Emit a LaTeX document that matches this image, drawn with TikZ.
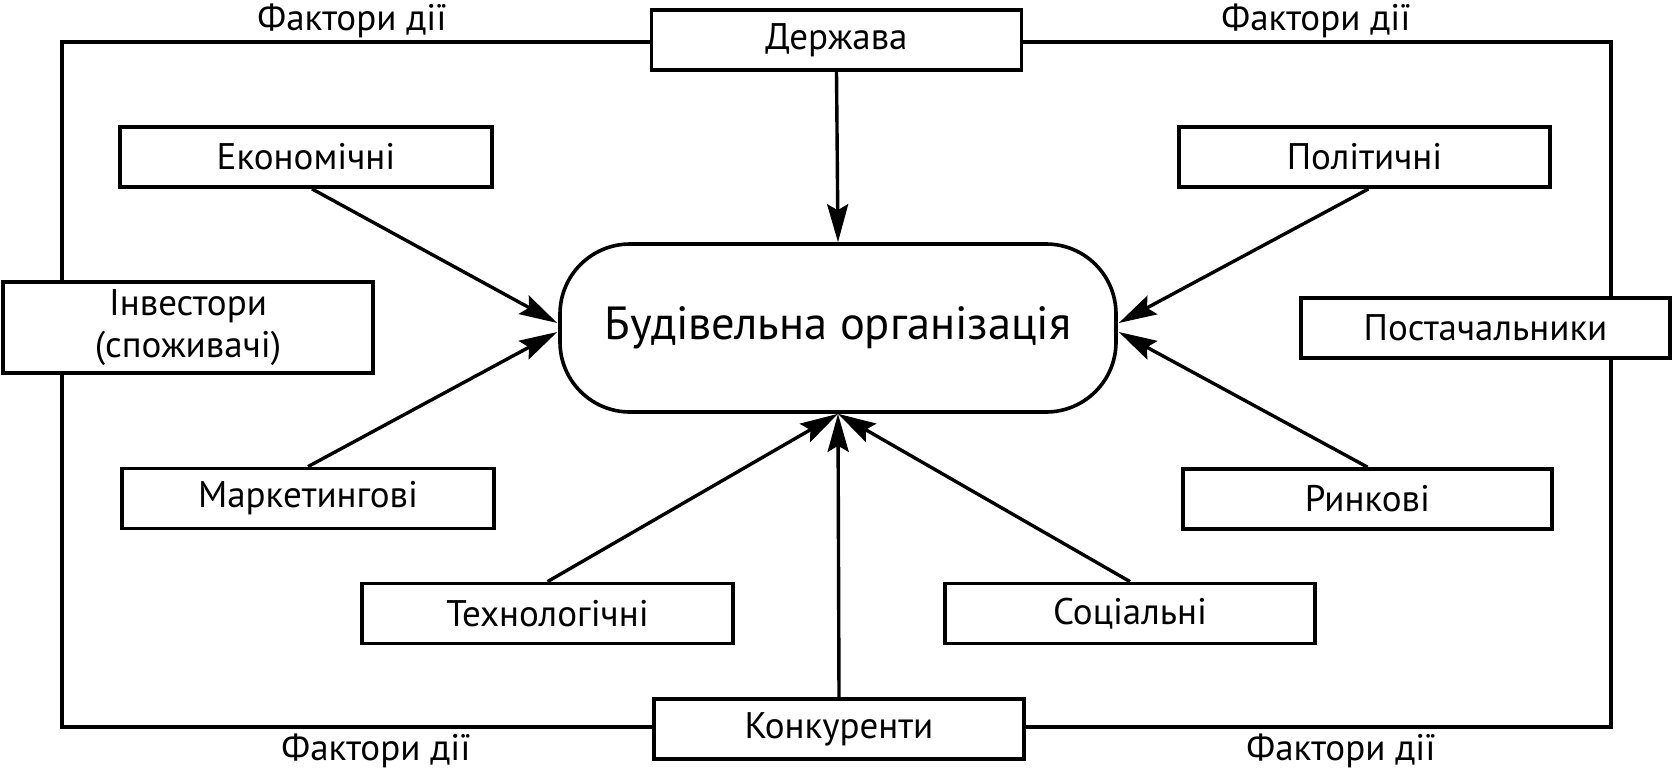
\documentclass[tikz,border=0pt]{standalone}
\usepackage{fontspec}
\setmainfont{PT Sans}
\usetikzlibrary{arrows.meta,calc}
\begin{document}
\begin{tikzpicture}[x=1pt,y=-1pt,
  box/.style={draw,line width=3.8pt,minimum width=370pt,minimum height=60pt,inner sep=0pt,font=\fontsize{37}{40}\selectfont,fill=white},
  frame/.style={line width=3.8pt},
  arr/.style={line width=3.4pt,-{Stealth[length=38pt,width=21pt,inset=6pt]}},
  lab/.style={font=\fontsize{37}{40}\selectfont,inner sep=0pt}]
\useasboundingbox (0,0) rectangle (1674,772);
\fill[white] (0,0) rectangle (1674,772);
% frame
\coordinate (TL) at (62,42);
\coordinate (TR) at (1611,42);
\coordinate (BR) at (1611,727);
\coordinate (BL) at (62,727);
\draw[frame,line join=miter] (TL) -- (TR) -- (BR) -- (BL) -- cycle;
% labels
\node[lab] (f1) at (352,21) {Фактори дії};
\node[lab] (f2) at (1316,21) {Фактори дії};
\node[lab] (f3) at (376,751) {Фактори дії};
\node[lab] (f4) at (1341,751) {Фактори дії};
% centre
\node[draw,line width=3.6pt,rounded corners=70pt,minimum width=556pt,minimum height=168pt,inner sep=0pt,font=\fontsize{46.5}{52}\selectfont,fill=white] (org) at (838,328) {Будівельна організація};
% boxes
\node[box] (derzh) at (836.5,40) {Держава};
\node[box,minimum width=372pt] (ekon) at (306,157) {Економічні};
\node[box,minimum width=371pt] (polit) at (1364.5,157) {Політичні};
\node[box,minimum height=91pt,align=center,font=\fontsize{37}{42}\selectfont] (invest) at (188,327.5) {Інвестори\\(споживачі)};
\node[box,minimum width=369pt] (postach) at (1485.5,328) {Постачальники};
\node[box,minimum width=372pt] (market) at (308,498.5) {Маркетингові};
\node[box,minimum width=369pt] (rynk) at (1367.5,499) {Ринкові};
\node[box,minimum width=371pt] (tech) at (547.5,613.5) {Технологічні};
\node[box] (social) at (1130,613.5) {Соціальні};
\node[box] (konk) at (839,729) {Конкуренти};
% arrow targets
\coordinate (oL1) at ($(org.west)+(-1,-5)$);
\coordinate (oL2) at ($(org.west)+(-1,4)$);
\coordinate (oR1) at ($(org.east)+(1,-5)$);
\coordinate (oR2) at ($(org.east)+(1,4)$);
\draw[arr] (derzh.south) -- (org.north);
\draw[arr] ($(ekon.south)+(6,0)$) -- (oL1);
\draw[arr] (market.north) -- (oL2);
\draw[arr] ($(polit.south)+(4,0)$) -- (oR1);
\draw[arr] (rynk.north) -- (oR2);
\draw[arr] (tech.north) -- (org.south);
\draw[arr] (social.north) -- (org.south);
\draw[arr] (konk.north) -- (org.south);
\end{tikzpicture}
\end{document}
